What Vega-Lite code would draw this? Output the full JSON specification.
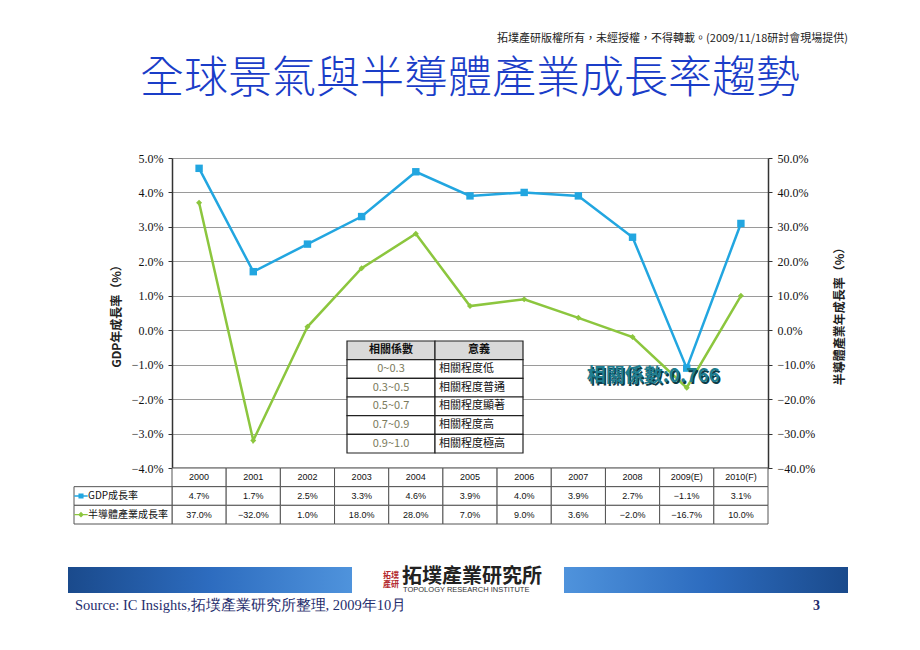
{
  "$schema": "https://vega.github.io/schema/vega-lite/v6.json",
  "background": "white",
  "padding": {"left": 68, "top": 33, "right": 10, "bottom": 10},
  "autosize": {"type": "pad"},
  "spacing": 0,
  "bounds": "flush",
  "title": {"text": "拓墣產研版權所有，未經授權，不得轉載。(2009/11/18研討會現場提供)", "anchor": "end", "fontSize": 11, "font": "Noto Sans CJK TC", "fontWeight": "normal", "color": "#222222", "offset": 14},
  "config": {"view": {"stroke": null}, "axis": {"labelFont": "Liberation Serif", "titleFont": "Liberation Serif"}},
  "datasets": {
    "growth": [
      {"year": "2000", "gdp": 4.7, "semi": 37.0},
      {"year": "2001", "gdp": 1.7, "semi": -32.0},
      {"year": "2002", "gdp": 2.5, "semi": 1.0},
      {"year": "2003", "gdp": 3.3, "semi": 18.0},
      {"year": "2004", "gdp": 4.6, "semi": 28.0},
      {"year": "2005", "gdp": 3.9, "semi": 7.0},
      {"year": "2006", "gdp": 4.0, "semi": 9.0},
      {"year": "2007", "gdp": 3.9, "semi": 3.6},
      {"year": "2008", "gdp": 2.7, "semi": -2.0},
      {"year": "2009(E)", "gdp": -1.1, "semi": -16.7},
      {"year": "2010(F)", "gdp": 3.1, "semi": 10.0}
    ],
    "corr": [
      {"row": "h", "col": "range", "text": "相關係數"},
      {"row": "h", "col": "meaning", "text": "意義"},
      {"row": "1", "col": "range", "text": "0~0.3"},
      {"row": "1", "col": "meaning", "text": "相關程度低"},
      {"row": "2", "col": "range", "text": "0.3~0.5"},
      {"row": "2", "col": "meaning", "text": "相關程度普通"},
      {"row": "3", "col": "range", "text": "0.5~0.7"},
      {"row": "3", "col": "meaning", "text": "相關程度顯著"},
      {"row": "4", "col": "range", "text": "0.7~0.9"},
      {"row": "4", "col": "meaning", "text": "相關程度高"},
      {"row": "5", "col": "range", "text": "0.9~1.0"},
      {"row": "5", "col": "meaning", "text": "相關程度極高"}
    ],
    "series": [
      {"key": "gdp", "label": "GDP成長率"},
      {"key": "semi", "label": "半導體產業成長率"}
    ]
  },
  "vconcat": [
    {
      "width": 596,
      "height": 310,
      "title": {"text": "全球景氣與半導體產業成長率趨勢", "fontSize": 44, "font": "Noto Sans CJK TC", "fontWeight": 300, "color": "#1a3dc8", "offset": 50, "anchor": "middle"},
      "layer": [
        {
          "data": {"name": "growth"},
          "layer": [
            {
              "encoding": {
                "x": {"field": "year", "type": "nominal", "sort": null, "scale": {"domain": ["2000","2001","2002","2003","2004","2005","2006","2007","2008","2009(E)","2010(F)"]}, "axis": {"labels": false, "ticks": false, "domain": true, "domainColor": "#333333", "domainWidth": 1.5, "title": null, "grid": false}},
                "y": {"field": "gdp", "type": "quantitative", "scale": {"domain": [-4, 5], "nice": false, "zero": false},
                  "axis": {"orient": "left", "values": [-4,-3,-2,-1,0,1,2,3,4,5], "tickCount": 10, "labelOverlap": false, "labelExpr": "format(datum.value, '.1f') + '%'", "labelFontSize": 12, "labelColor": "#111111", "labelPadding": 5, "tickSize": 4, "tickColor": "#333333", "domainColor": "#333333", "domainWidth": 1.5, "grid": true, "gridColor": "#9a9a9a", "gridWidth": 1, "title": "GDP年成長率（%）", "titleFont": "Noto Sans CJK TC", "titleFontSize": 12, "titleFontWeight": "bold", "titleColor": "#222222", "titlePadding": 8}}
              },
              "layer": [
                {"mark": {"type": "line", "color": "#22a6e0", "strokeWidth": 2.5}},
                {"mark": {"type": "point", "shape": "square", "filled": true, "color": "#22a6e0", "size": 55, "opacity": 1}}
              ]
            },
            {
              "encoding": {
                "x": {"field": "year", "type": "nominal", "sort": null},
                "y": {"field": "semi", "type": "quantitative", "scale": {"domain": [-40, 50], "nice": false, "zero": false},
                  "axis": {"orient": "right", "values": [-40,-30,-20,-10,0,10,20,30,40,50], "tickCount": 10, "labelOverlap": false, "labelExpr": "format(datum.value, '.1f') + '%'", "labelFontSize": 12, "labelColor": "#111111", "labelPadding": 5, "tickSize": 4, "tickColor": "#333333", "domainColor": "#333333", "domainWidth": 1.5, "grid": false, "title": "半導體產業年成長率（%）", "titleAngle": 270, "titleFont": "Noto Sans CJK TC", "titleFontSize": 12, "titleFontWeight": "bold", "titleColor": "#222222", "titlePadding": 32}}
              },
              "layer": [
                {"mark": {"type": "line", "color": "#8cc63e", "strokeWidth": 2.5}},
                {"mark": {"type": "point", "shape": "diamond", "filled": true, "color": "#8cc63e", "size": 36, "opacity": 1}}
              ]
            }
          ],
          "resolve": {"scale": {"y": "independent"}}
        },
        {
          "data": {"values": [{"note": "相關係數:0.766"}]},
          "encoding": {
            "x": {"datum": "2009(E)", "type": "nominal", "scale": {"type": "point", "domain": ["2000","2001","2002","2003","2004","2005","2006","2007","2008","2009(E)","2010(F)"]}, "axis": null},
            "y": {"datum": -1.34, "type": "quantitative", "scale": {"domain": [-4, 5], "nice": false, "zero": false}, "axis": null},
            "text": {"field": "note"}
          },
          "layer": [
            {"mark": {"type": "text", "font": "Noto Sans CJK TC", "fontSize": 19, "fontWeight": "bold", "color": "#0b3c48", "dx": -32, "dy": 1.5, "baseline": "middle"}},
            {"mark": {"type": "text", "font": "Noto Sans CJK TC", "fontSize": 19, "fontWeight": "bold", "color": "#1f7d8f", "dx": -33.5, "baseline": "middle"}}
          ]
        },
        {
          "data": {"name": "corr"},
          "encoding": {
            "x": {"field": "col", "type": "nominal", "scale": {"domain": ["range", "meaning"], "range": [175, 351], "paddingInner": 0, "paddingOuter": 0}, "axis": null},
            "y": {"field": "row", "type": "nominal", "scale": {"domain": ["h","1","2","3","4","5"], "range": [183, 295], "paddingInner": 0, "paddingOuter": 0}, "axis": null}
          },
          "layer": [
            {
              "mark": {"type": "rect", "stroke": "#222222", "strokeWidth": 1.2},
              "encoding": {"fill": {"condition": {"test": "datum.row === 'h'", "value": "#d9d9d9"}, "value": "white"}}
            },
            {
              "transform": [{"filter": "datum.row === 'h'"}],
              "mark": {"type": "text", "font": "Noto Sans CJK TC", "fontSize": 11, "fontWeight": "bold", "color": "#111111", "baseline": "middle"},
              "encoding": {"text": {"field": "text"}}
            },
            {
              "transform": [{"filter": "datum.row !== 'h' && datum.col === 'range'"}],
              "mark": {"type": "text", "font": "Noto Sans CJK TC", "fontSize": 11, "color": "#7b7a5c", "baseline": "middle"},
              "encoding": {"text": {"field": "text"}}
            },
            {
              "transform": [{"filter": "datum.row !== 'h' && datum.col === 'meaning'"}],
              "mark": {"type": "text", "font": "Noto Sans CJK TC", "fontSize": 11, "color": "#111111", "baseline": "middle", "align": "left", "dx": -40},
              "encoding": {"text": {"field": "text"}}
            }
          ]
        }
      ],
      "resolve": {"scale": {"x": "independent", "y": "independent"}}
    },
    {
      "width": 596,
      "height": 56,
      "encoding": {
        "y": {"field": "key", "type": "nominal", "scale": {"domain": ["year", "gdp", "semi"], "paddingInner": 0, "paddingOuter": 0}, "axis": null}
      },
      "layer": [
        {
          "data": {"name": "growth"},
          "encoding": {
            "x": {"field": "year", "type": "nominal", "sort": null, "scale": {"paddingInner": 0, "paddingOuter": 0}, "axis": null}
          },
          "layer": [
            {
              "mark": {"type": "rect", "fill": "white", "stroke": "#555555", "strokeWidth": 1},
              "encoding": {"y": {"datum": "year", "type": "nominal"}}
            },
            {
              "mark": {"type": "text", "font": "Liberation Sans", "fontSize": 9, "color": "#111111", "baseline": "middle"},
              "encoding": {"y": {"datum": "year", "type": "nominal"}, "text": {"field": "year"}}
            },
            {
              "transform": [{"fold": ["gdp", "semi"], "as": ["key", "value"]}],
              "mark": {"type": "rect", "fill": "white", "stroke": "#555555", "strokeWidth": 1}
            },
            {
              "transform": [{"fold": ["gdp", "semi"], "as": ["key", "value"]}],
              "mark": {"type": "text", "font": "Liberation Sans", "fontSize": 9, "color": "#111111", "baseline": "middle", "text": {"expr": "format(datum.value, '.1f') + '%'"}}
            }
          ]
        },
        {
          "data": {"name": "series"},
          "mark": {"type": "rect", "fill": "white", "stroke": "#555555", "strokeWidth": 1},
          "encoding": {
            "x": {"datum": "lab", "type": "nominal", "scale": {"domain": ["lab"], "range": [-98, 0], "paddingInner": 0, "paddingOuter": 0}, "axis": null}
          }
        },
        {
          "data": {"name": "series"},
          "mark": {"type": "text", "font": "Noto Sans CJK TC", "fontSize": 10, "color": "#111111", "baseline": "middle", "align": "left"},
          "encoding": {
            "x": {"datum": "txt", "type": "nominal", "scale": {"domain": ["txt"], "range": [-168, 0], "paddingInner": 0, "paddingOuter": 0}, "axis": null},
            "text": {"field": "label"}
          }
        },
        {
          "data": {"name": "series"},
          "transform": [{"filter": "datum.key === 'gdp'"}],
          "mark": {"type": "point", "filled": true, "opacity": 1, "color": "#22a6e0", "size": 180, "shape": "M-1,-0.1L1,-0.1L1,0.1L-1,0.1Z M-0.38,-0.38L0.38,-0.38L0.38,0.38L-0.38,0.38Z"},
          "encoding": {
            "x": {"datum": "sym", "type": "nominal", "scale": {"domain": ["sym"], "range": [-98, -84], "paddingInner": 0, "paddingOuter": 0}, "axis": null}
          }
        },
        {
          "data": {"name": "series"},
          "transform": [{"filter": "datum.key === 'semi'"}],
          "mark": {"type": "point", "filled": true, "opacity": 1, "color": "#8cc63e", "size": 180, "shape": "M-1,-0.1L1,-0.1L1,0.1L-1,0.1Z M0,-0.42L0.42,0L0,0.42L-0.42,0Z"},
          "encoding": {
            "x": {"datum": "sym", "type": "nominal", "scale": {"domain": ["sym"], "range": [-98, -84], "paddingInner": 0, "paddingOuter": 0}, "axis": null}
          }
        }
      ],
      "resolve": {"scale": {"x": "independent"}}
    },
    {
      "width": 596,
      "height": 94,
      "data": {"values": [{"part": "left"}, {"part": "right"}]},
      "encoding": {
        "x": {"field": "part", "type": "nominal", "scale": {"domain": ["left", "right"], "range": [-104, 676], "paddingInner": 0.4274, "paddingOuter": 0}, "axis": null}
      },
      "layer": [
        {
          "transform": [{"filter": "datum.part === 'left'"}],
          "mark": {"type": "rect", "color": {"gradient": "linear", "x1": 0, "x2": 1, "y1": 0, "y2": 0, "stops": [{"offset": 0, "color": "#1a4a8c"}, {"offset": 0.5, "color": "#2d6cbf"}, {"offset": 1, "color": "#4f93dc"}]}},
          "encoding": {"y": {"datum": "banner", "type": "nominal", "scale": {"domain": ["banner", "source"], "range": [43, 95], "paddingInner": 0, "paddingOuter": 0}, "axis": null}}
        },
        {
          "transform": [{"filter": "datum.part === 'right'"}],
          "mark": {"type": "rect", "color": {"gradient": "linear", "x1": 0, "x2": 1, "y1": 0, "y2": 0, "stops": [{"offset": 0, "color": "#4f93dc"}, {"offset": 0.5, "color": "#2d6cbf"}, {"offset": 1, "color": "#1a4a8c"}]}},
          "encoding": {"y": {"datum": "banner", "type": "nominal"}}
        },
        {
          "transform": [{"filter": "datum.part === 'left'"}],
          "mark": {"type": "text", "text": "拓墣產業研究所", "font": "Noto Sans CJK TC", "fontSize": 20, "fontWeight": "bold", "color": "#222222", "align": "left", "baseline": "middle", "dx": 50, "dy": -3},
          "encoding": {"x": {"field": "part", "type": "nominal", "bandPosition": 1}, "y": {"datum": "banner", "type": "nominal"}}
        },
        {
          "transform": [{"filter": "datum.part === 'left'"}],
          "mark": {"type": "text", "text": "TOPOLOGY RESEARCH INSTITUTE", "font": "Liberation Sans", "fontSize": 7.5, "color": "#333333", "align": "left", "baseline": "middle", "dx": 51, "dy": 10},
          "encoding": {"x": {"field": "part", "type": "nominal", "bandPosition": 1}, "y": {"datum": "banner", "type": "nominal"}}
        },
        {
          "transform": [{"filter": "datum.part === 'left'"}],
          "mark": {"type": "text", "text": ["拓墣", "產研"], "font": "Noto Sans CJK TC", "fontSize": 8, "fontWeight": "bold", "color": "#b3282d", "align": "left", "baseline": "middle", "dx": 31, "dy": -4, "lineHeight": 9},
          "encoding": {"x": {"field": "part", "type": "nominal", "bandPosition": 1}, "y": {"datum": "banner", "type": "nominal"}}
        },
        {
          "transform": [{"filter": "datum.part === 'left'"}],
          "mark": {"type": "text", "text": "Source:  IC Insights,拓墣產業研究所整理, 2009年10月", "font": "Liberation Serif", "fontSize": 14.5, "color": "#1f2d6d", "align": "left", "baseline": "middle", "dx": 7},
          "encoding": {"x": {"field": "part", "type": "nominal", "bandPosition": 0}, "y": {"datum": "source", "type": "nominal"}}
        },
        {
          "transform": [{"filter": "datum.part === 'right'"}],
          "mark": {"type": "text", "text": "3", "font": "Liberation Serif", "fontSize": 14, "fontWeight": "bold", "color": "#1f2d6d", "align": "right", "baseline": "middle", "dx": -28},
          "encoding": {"x": {"field": "part", "type": "nominal", "bandPosition": 1}, "y": {"datum": "source", "type": "nominal"}}
        }
      ]
    }
  ]
}
